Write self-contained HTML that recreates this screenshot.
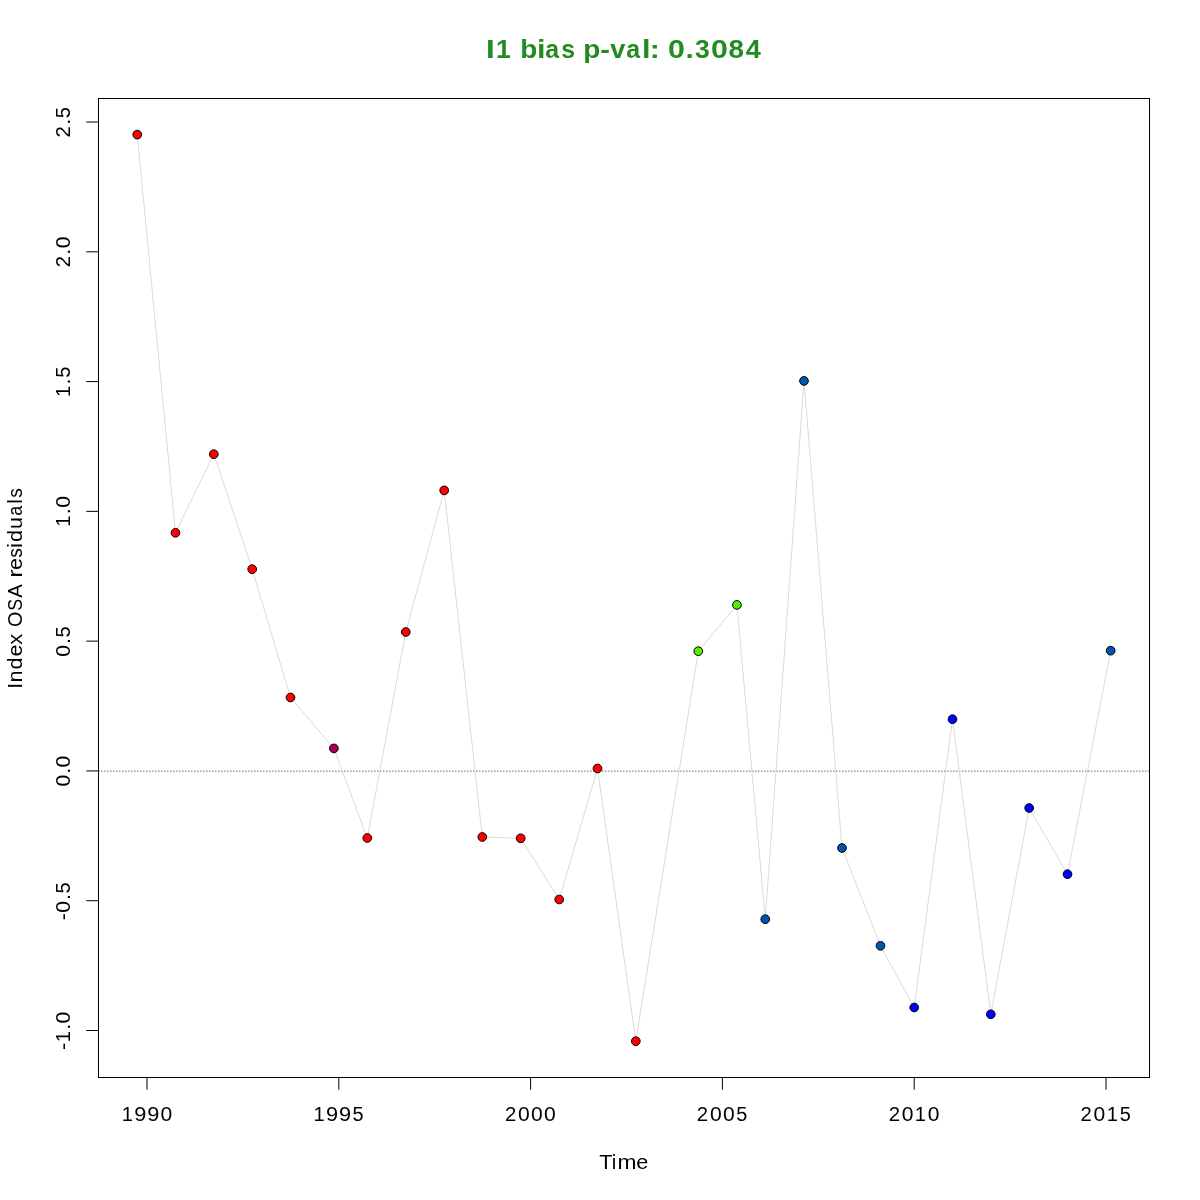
<!DOCTYPE html>
<html><head><meta charset="utf-8"><title>I1 bias p-val</title>
<style>
html,body{margin:0;padding:0;background:#fff;}
body{width:1200px;height:1200px;overflow:hidden;}
svg{display:block;will-change:transform;}
text{font-family:"Liberation Sans", sans-serif;}
</style></head><body>
<svg width="1200" height="1200" viewBox="0 0 1200 1200">
<rect x="0" y="0" width="1200" height="1200" fill="#ffffff"/>
<line x1="98.2" y1="771.08" x2="1148.9" y2="771.08" stroke="#6a6a6a" stroke-width="1.25" stroke-dasharray="1.25 1.75"/>
<polyline fill="none" stroke="#dadada" stroke-width="1" stroke-linejoin="round" points="137.25,134.60 175.50,532.80 213.80,454.20 252.20,569.20 290.50,697.50 333.90,748.40 367.30,838.00 405.80,632.00 444.20,490.40 482.30,837.00 520.70,838.30 559.20,899.50 597.50,768.50 635.80,1041.20 698.30,651.20 736.90,604.90 765.30,919.20 804.00,380.90 842.00,848.00 880.50,945.80 914.20,1007.50 952.50,719.20 990.80,1014.30 1029.20,808.00 1067.50,874.20 1110.70,650.70"/>
<circle cx="137.25" cy="134.60" r="4.35" fill="#ff0000" stroke="#000" stroke-width="1"/>
<circle cx="175.50" cy="532.80" r="4.35" fill="#ff0000" stroke="#000" stroke-width="1"/>
<circle cx="213.80" cy="454.20" r="4.35" fill="#ff0000" stroke="#000" stroke-width="1"/>
<circle cx="252.20" cy="569.20" r="4.35" fill="#ff0000" stroke="#000" stroke-width="1"/>
<circle cx="290.50" cy="697.50" r="4.35" fill="#ff0000" stroke="#000" stroke-width="1"/>
<circle cx="333.90" cy="748.40" r="4.35" fill="#ad0055" stroke="#000" stroke-width="1"/>
<circle cx="367.30" cy="838.00" r="4.35" fill="#ff0000" stroke="#000" stroke-width="1"/>
<circle cx="405.80" cy="632.00" r="4.35" fill="#ff0000" stroke="#000" stroke-width="1"/>
<circle cx="444.20" cy="490.40" r="4.35" fill="#ff0000" stroke="#000" stroke-width="1"/>
<circle cx="482.30" cy="837.00" r="4.35" fill="#ff0000" stroke="#000" stroke-width="1"/>
<circle cx="520.70" cy="838.30" r="4.35" fill="#ff0000" stroke="#000" stroke-width="1"/>
<circle cx="559.20" cy="899.50" r="4.35" fill="#ff0000" stroke="#000" stroke-width="1"/>
<circle cx="597.50" cy="768.50" r="4.35" fill="#ff0000" stroke="#000" stroke-width="1"/>
<circle cx="635.80" cy="1041.20" r="4.35" fill="#ff0000" stroke="#000" stroke-width="1"/>
<circle cx="698.30" cy="651.20" r="4.35" fill="#55f000" stroke="#000" stroke-width="1"/>
<circle cx="736.90" cy="604.90" r="4.35" fill="#55f000" stroke="#000" stroke-width="1"/>
<circle cx="765.30" cy="919.20" r="4.35" fill="#0055b0" stroke="#000" stroke-width="1"/>
<circle cx="804.00" cy="380.90" r="4.35" fill="#0055b0" stroke="#000" stroke-width="1"/>
<circle cx="842.00" cy="848.00" r="4.35" fill="#0055b0" stroke="#000" stroke-width="1"/>
<circle cx="880.50" cy="945.80" r="4.35" fill="#0055b0" stroke="#000" stroke-width="1"/>
<circle cx="914.20" cy="1007.50" r="4.35" fill="#0000ff" stroke="#000" stroke-width="1"/>
<circle cx="952.50" cy="719.20" r="4.35" fill="#0000ff" stroke="#000" stroke-width="1"/>
<circle cx="990.80" cy="1014.30" r="4.35" fill="#0000ff" stroke="#000" stroke-width="1"/>
<circle cx="1029.20" cy="808.00" r="4.35" fill="#0000ff" stroke="#000" stroke-width="1"/>
<circle cx="1067.50" cy="874.20" r="4.35" fill="#0000ff" stroke="#000" stroke-width="1"/>
<circle cx="1110.70" cy="650.70" r="4.35" fill="#0055b0" stroke="#000" stroke-width="1"/>
<rect x="98.5" y="98.5" width="1051" height="979" fill="none" stroke="#000" stroke-width="1"/>
<line x1="147.00" y1="1077.5" x2="147.00" y2="1089.7" stroke="#000" stroke-width="1"/>
<g transform="translate(147.00,1120.9)"><text transform="translate(-25.337,0) scale(0.9589,1)" font-size="21">1</text><text transform="translate(-12.761,0) scale(1.0369,1)" font-size="21">9</text><text transform="translate(0.239,0) scale(1.0369,1)" font-size="21">9</text><text transform="translate(13.495,0) scale(1.0039,1)" font-size="21">0</text></g>
<line x1="338.80" y1="1077.5" x2="338.80" y2="1089.7" stroke="#000" stroke-width="1"/>
<g transform="translate(338.80,1120.9)"><text transform="translate(-25.337,0) scale(0.9589,1)" font-size="21">1</text><text transform="translate(-12.761,0) scale(1.0369,1)" font-size="21">9</text><text transform="translate(0.239,0) scale(1.0369,1)" font-size="21">9</text><text transform="translate(13.746,0) scale(0.9475,1)" font-size="21">5</text></g>
<line x1="530.60" y1="1077.5" x2="530.60" y2="1089.7" stroke="#000" stroke-width="1"/>
<g transform="translate(530.60,1120.9)"><text transform="translate(-25.557,0) scale(0.9677,1)" font-size="21">2</text><text transform="translate(-12.505,0) scale(1.0039,1)" font-size="21">0</text><text transform="translate(0.495,0) scale(1.0039,1)" font-size="21">0</text><text transform="translate(13.495,0) scale(1.0039,1)" font-size="21">0</text></g>
<line x1="722.40" y1="1077.5" x2="722.40" y2="1089.7" stroke="#000" stroke-width="1"/>
<g transform="translate(722.40,1120.9)"><text transform="translate(-25.557,0) scale(0.9677,1)" font-size="21">2</text><text transform="translate(-12.505,0) scale(1.0039,1)" font-size="21">0</text><text transform="translate(0.495,0) scale(1.0039,1)" font-size="21">0</text><text transform="translate(13.746,0) scale(0.9475,1)" font-size="21">5</text></g>
<line x1="914.20" y1="1077.5" x2="914.20" y2="1089.7" stroke="#000" stroke-width="1"/>
<g transform="translate(914.20,1120.9)"><text transform="translate(-25.557,0) scale(0.9677,1)" font-size="21">2</text><text transform="translate(-12.505,0) scale(1.0039,1)" font-size="21">0</text><text transform="translate(0.663,0) scale(0.9589,1)" font-size="21">1</text><text transform="translate(13.495,0) scale(1.0039,1)" font-size="21">0</text></g>
<line x1="1106.00" y1="1077.5" x2="1106.00" y2="1089.7" stroke="#000" stroke-width="1"/>
<g transform="translate(1106.00,1120.9)"><text transform="translate(-25.557,0) scale(0.9677,1)" font-size="21">2</text><text transform="translate(-12.505,0) scale(1.0039,1)" font-size="21">0</text><text transform="translate(0.663,0) scale(0.9589,1)" font-size="21">1</text><text transform="translate(13.746,0) scale(0.9475,1)" font-size="21">5</text></g>
<line x1="86.3" y1="1030.50" x2="98.5" y2="1030.50" stroke="#000" stroke-width="1"/>
<g transform="translate(70.0,1030.50) rotate(-90)"><text transform="translate(-19.481,0) scale(1.0267,1)" font-size="21">-</text><text transform="translate(-11.837,0) scale(0.9589,1)" font-size="21">1</text><text transform="translate(0.663,0) scale(1.0305,1)" font-size="21">.</text><text transform="translate(6.995,0) scale(1.0039,1)" font-size="21">0</text></g>
<line x1="86.3" y1="900.72" x2="98.5" y2="900.72" stroke="#000" stroke-width="1"/>
<g transform="translate(70.0,900.72) rotate(-90)"><text transform="translate(-19.481,0) scale(1.0267,1)" font-size="21">-</text><text transform="translate(-12.005,0) scale(1.0039,1)" font-size="21">0</text><text transform="translate(0.663,0) scale(1.0305,1)" font-size="21">.</text><text transform="translate(7.246,0) scale(0.9475,1)" font-size="21">5</text></g>
<line x1="86.3" y1="770.93" x2="98.5" y2="770.93" stroke="#000" stroke-width="1"/>
<g transform="translate(70.0,770.93) rotate(-90)"><text transform="translate(-15.505,0) scale(1.0039,1)" font-size="21">0</text><text transform="translate(-2.837,0) scale(1.0305,1)" font-size="21">.</text><text transform="translate(3.495,0) scale(1.0039,1)" font-size="21">0</text></g>
<line x1="86.3" y1="641.14" x2="98.5" y2="641.14" stroke="#000" stroke-width="1"/>
<g transform="translate(70.0,641.14) rotate(-90)"><text transform="translate(-15.505,0) scale(1.0039,1)" font-size="21">0</text><text transform="translate(-2.837,0) scale(1.0305,1)" font-size="21">.</text><text transform="translate(3.746,0) scale(0.9475,1)" font-size="21">5</text></g>
<line x1="86.3" y1="511.36" x2="98.5" y2="511.36" stroke="#000" stroke-width="1"/>
<g transform="translate(70.0,511.36) rotate(-90)"><text transform="translate(-15.337,0) scale(0.9589,1)" font-size="21">1</text><text transform="translate(-2.837,0) scale(1.0305,1)" font-size="21">.</text><text transform="translate(3.495,0) scale(1.0039,1)" font-size="21">0</text></g>
<line x1="86.3" y1="381.58" x2="98.5" y2="381.58" stroke="#000" stroke-width="1"/>
<g transform="translate(70.0,381.58) rotate(-90)"><text transform="translate(-15.337,0) scale(0.9589,1)" font-size="21">1</text><text transform="translate(-2.837,0) scale(1.0305,1)" font-size="21">.</text><text transform="translate(3.746,0) scale(0.9475,1)" font-size="21">5</text></g>
<line x1="86.3" y1="251.79" x2="98.5" y2="251.79" stroke="#000" stroke-width="1"/>
<g transform="translate(70.0,251.79) rotate(-90)"><text transform="translate(-15.557,0) scale(0.9677,1)" font-size="21">2</text><text transform="translate(-2.837,0) scale(1.0305,1)" font-size="21">.</text><text transform="translate(3.495,0) scale(1.0039,1)" font-size="21">0</text></g>
<line x1="86.3" y1="122.00" x2="98.5" y2="122.00" stroke="#000" stroke-width="1"/>
<g transform="translate(70.0,122.00) rotate(-90)"><text transform="translate(-15.557,0) scale(0.9677,1)" font-size="21">2</text><text transform="translate(-2.837,0) scale(1.0305,1)" font-size="21">.</text><text transform="translate(3.746,0) scale(0.9475,1)" font-size="21">5</text></g>
<g transform="translate(624,1168.9)"><text transform="translate(-24.737,0) scale(1.0387,1)" font-size="21">T</text><text transform="translate(-12.294,0) scale(0.9735,1)" font-size="21">i</text><text transform="translate(-6.508,0) scale(1.0851,1)" font-size="21">m</text><text transform="translate(12.374,0) scale(1.0287,1)" font-size="21">e</text></g>
<g transform="translate(22.0,588.5) rotate(-90)"><text transform="translate(-100.284,0) scale(1.0072,1)" font-size="21">I</text><text transform="translate(-93.910,0) scale(1.0268,1)" font-size="21">n</text><text transform="translate(-81.104,0) scale(1.0351,1)" font-size="21">d</text><text transform="translate(-68.109,0) scale(1.0287,1)" font-size="21">e</text><text transform="translate(-56.319,0) scale(1.0565,1)" font-size="21">x</text><text transform="translate(-38.460,0) scale(0.9415,1)" font-size="21">O</text><text transform="translate(-22.138,0) scale(0.8490,1)" font-size="21">S</text><text transform="translate(-9.162,0) scale(0.9594,1)" font-size="21">A</text><text transform="translate(10.835,0) scale(1.2202,1)" font-size="21">r</text><text transform="translate(18.481,0) scale(1.0287,1)" font-size="21">e</text><text transform="translate(30.845,0) scale(0.9129,1)" font-size="21">s</text><text transform="translate(40.812,0) scale(0.9735,1)" font-size="21">i</text><text transform="translate(46.486,0) scale(1.0351,1)" font-size="21">d</text><text transform="translate(59.594,0) scale(1.0268,1)" font-size="21">u</text><text transform="translate(72.732,0) scale(0.8564,1)" font-size="21">a</text><text transform="translate(84.802,0) scale(0.9735,1)" font-size="21">l</text><text transform="translate(90.845,0) scale(0.9129,1)" font-size="21">s</text></g>
<g transform="translate(624,57.9)" font-weight="bold" style="fill:#228b22"><text transform="translate(-137.892,0) scale(1.2332,1)" font-size="25.4">I</text><text transform="translate(-127.963,0) scale(1.0440,1)" font-size="25.4">1</text><text transform="translate(-103.827,0) scale(1.1005,1)" font-size="25.4">b</text><text transform="translate(-87.119,0) scale(1.2038,1)" font-size="25.4">i</text><text transform="translate(-78.698,0) scale(0.9804,1)" font-size="25.4">a</text><text transform="translate(-62.630,0) scale(0.9766,1)" font-size="25.4">s</text><text transform="translate(-40.827,0) scale(1.1005,1)" font-size="25.4">p</text><text transform="translate(-23.831,0) scale(1.1411,1)" font-size="25.4">-</text><text transform="translate(-13.743,0) scale(1.0729,1)" font-size="25.4">v</text><text transform="translate(2.302,0) scale(0.9804,1)" font-size="25.4">a</text><text transform="translate(17.881,0) scale(1.2038,1)" font-size="25.4">l</text><text transform="translate(25.790,0) scale(1.1844,1)" font-size="25.4">:</text><text transform="translate(43.951,0) scale(1.1923,1)" font-size="25.4">0</text><text transform="translate(61.420,0) scale(1.1770,1)" font-size="25.4">.</text><text transform="translate(70.997,0) scale(1.0442,1)" font-size="25.4">3</text><text transform="translate(86.951,0) scale(1.1923,1)" font-size="25.4">0</text><text transform="translate(104.581,0) scale(1.0963,1)" font-size="25.4">8</text><text transform="translate(121.668,0) scale(1.0672,1)" font-size="25.4">4</text></g>
</svg>
</body></html>
